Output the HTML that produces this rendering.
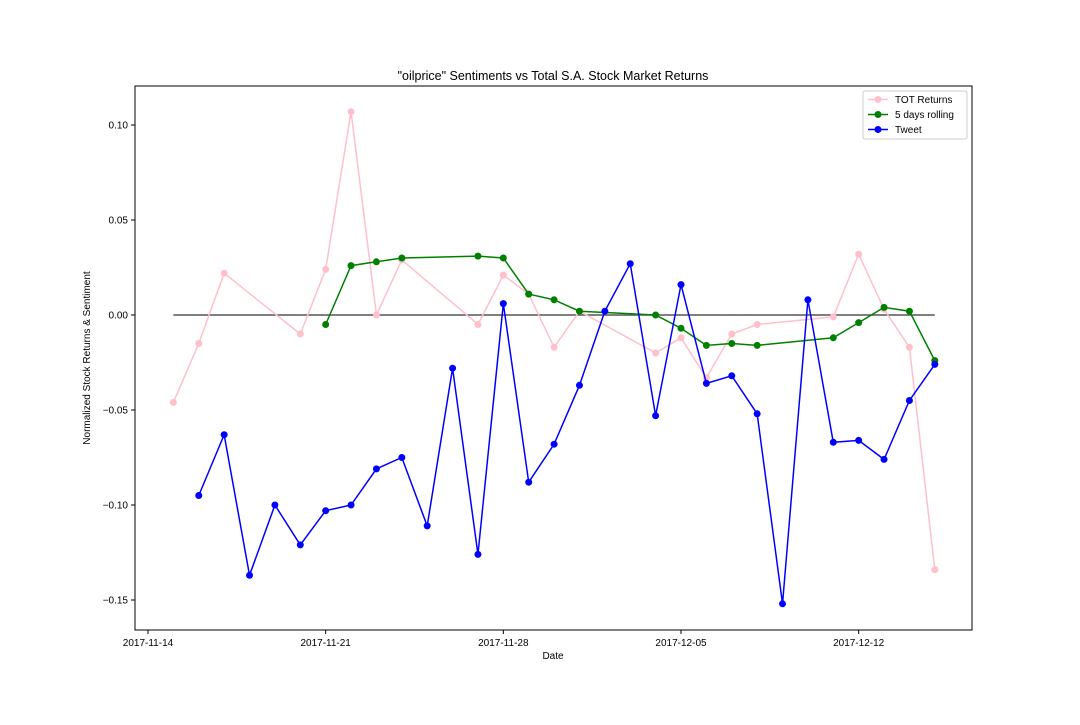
<!DOCTYPE html>
<html><head><meta charset="utf-8"><style>
body{margin:0;background:#fff;font-family:"Liberation Sans","DejaVu Sans",sans-serif}
</style></head><body>
<svg id="chart" width="1080" height="720" xmlns="http://www.w3.org/2000/svg" font-family="Liberation Sans, DejaVu Sans, sans-serif">
<rect width="1080" height="720" fill="#fff"/>
<text x="553" y="80" text-anchor="middle" font-size="12.5">"oilprice" Sentiments vs Total S.A. Stock Market Returns</text>
<g id="plot"></g>
<rect x="135" y="86" width="837" height="544" fill="none" stroke="#000" stroke-width="1"/>
<text x="553" y="659" text-anchor="middle" font-size="10">Date</text>
<text transform="translate(90,358) rotate(-90)" text-anchor="middle" font-size="10">Normalized Stock Returns &amp; Sentiment</text>
<g>
<rect x="863" y="91" width="104" height="48" fill="#fff" stroke="#ccc" rx="2"/>
<line x1="868" y1="99.5" x2="888" y2="99.5" stroke="pink" stroke-width="1.5"/><circle cx="878" cy="99.5" r="3.5" fill="pink"/>
<text x="895" y="103" font-size="10">TOT Returns</text>
<line x1="868" y1="114.5" x2="888" y2="114.5" stroke="green" stroke-width="1.5"/><circle cx="878" cy="114.5" r="3.5" fill="green"/>
<text x="895" y="118" font-size="10">5 days rolling</text>
<line x1="868" y1="129.5" x2="888" y2="129.5" stroke="blue" stroke-width="1.5"/><circle cx="878" cy="129.5" r="3.5" fill="blue"/>
<text x="895" y="133" font-size="10">Tweet</text>
</g>
</svg>
<script>
const totDays=[1,2,3,6,7,8,9,10,13,14,15,16,17,20,21,22,23,24,27,28,29,30,31];
const totVals=[-0.046,-0.015,0.022,-0.010,0.024,0.107,0.000,0.029,-0.005,0.021,0.011,-0.017,0.002,-0.020,-0.012,-0.033,-0.010,-0.005,-0.001,0.032,0.003,-0.017,-0.134];
const rollDays=[7,8,9,10,13,14,15,16,17,20,21,22,23,24,27,28,29,30,31];
const rollVals=[-0.005,0.026,0.028,0.030,0.031,0.030,0.011,0.008,0.002,0.000,-0.007,-0.016,-0.015,-0.016,-0.012,-0.004,0.004,0.002,-0.024];
const tweetDays=[2,3,4,5,6,7,8,9,10,11,12,13,14,15,16,17,18,19,20,21,22,23,24,25,26,27,28,29,30,31];
const tweetVals=[-0.095,-0.063,-0.137,-0.100,-0.121,-0.103,-0.100,-0.081,-0.075,-0.111,-0.028,-0.126,0.006,-0.088,-0.068,-0.037,0.002,0.027,-0.053,0.016,-0.036,-0.032,-0.052,-0.152,0.008,-0.067,-0.066,-0.076,-0.045,-0.026];
const xTickDays=[0,7,14,21,28];
const xTickLabels=["2017-11-14","2017-11-21","2017-11-28","2017-12-05","2017-12-12"];
const yTicks=[0.10,0.05,0.00,-0.05,-0.10,-0.15];
const yTickLabels=["0.10","0.05","0.00","\u22120.05","\u22120.10","\u22120.15"];
const ns="http://www.w3.org/2000/svg";
const X=d=>148+d*(681-148)/21;
const Y=v=>315-v*1900;
const g=document.getElementById('plot');
function mk(t,a){const e=document.createElementNS(ns,t);for(const k in a)e.setAttribute(k,a[k]);g.appendChild(e);return e;}
xTickDays.forEach((d,i)=>{
  const t=mk('line',{x1:X(d),x2:X(d),y1:630,y2:634,stroke:'#000'});
  
  
  const l=mk('text',{x:X(d),y:646,'text-anchor':'middle','font-size':10});l.textContent=xTickLabels[i];
  
  
});
yTicks.forEach((v,i)=>{
  const t=mk('line',{x1:131,x2:135,y1:Y(v),y2:Y(v),stroke:'#000'});
  
  
  const l=mk('text',{x:128,y:Y(v)+3.5,'text-anchor':'end','font-size':10});l.textContent=yTickLabels[i];
  
  
});
const zl=mk('line',{x1:X(1),x2:X(31),y1:Y(0),y2:Y(0),stroke:'#555','stroke-width':1.5});


function series(days,vals,color,name){
  const p=mk('polyline',{points:days.map((d,i)=>X(d)+','+Y(vals[i])).join(' '),fill:'none',stroke:color,'stroke-width':1.5});
  
  
  days.forEach((d,i)=>{
    const c=mk('circle',{cx:X(d),cy:Y(vals[i]),r:3.5,fill:color});
    
    
  });
}
series(totDays,totVals,'pink','tot-returns');
series(rollDays,rollVals,'green','rolling-5d');
series(tweetDays,tweetVals,'blue','tweet');
</script>
</body></html>
